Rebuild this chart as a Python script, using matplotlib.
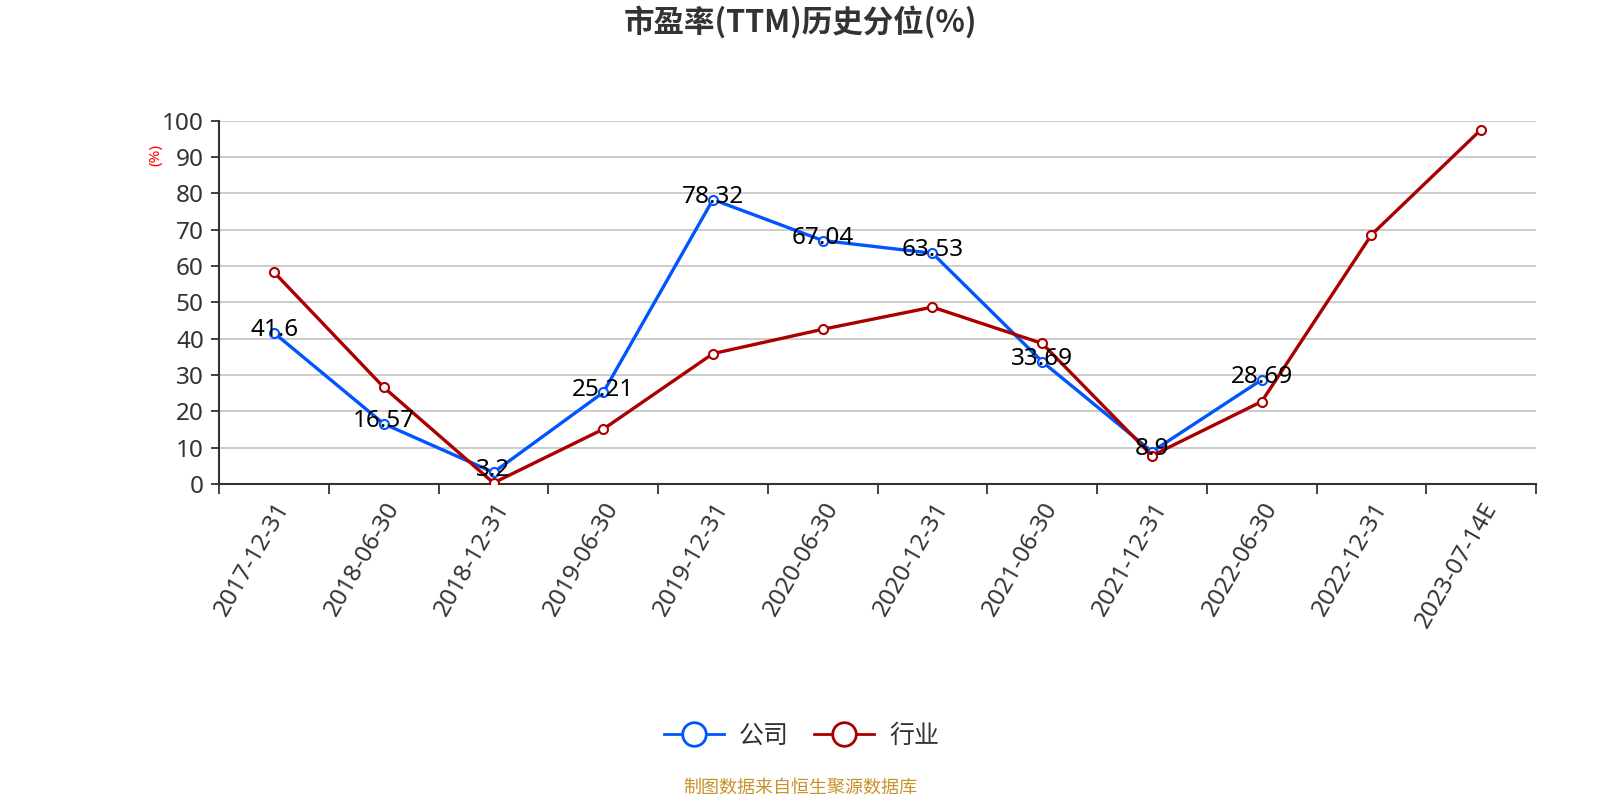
import matplotlib.pyplot as plt
from matplotlib.lines import Line2D

plt.rcParams['font.family'] = ['Noto Sans', 'Noto Sans CJK SC', 'DejaVu Sans']

dates = ['2017-12-31', '2018-06-30', '2018-12-31', '2019-06-30', '2019-12-31',
         '2020-06-30', '2020-12-31', '2021-06-30', '2021-12-31', '2022-06-30',
         '2022-12-31', '2023-07-14E']
company = [41.6, 16.57, 3.2, 25.21, 78.32, 67.04, 63.53, 33.69, 8.9, 28.69]
industry = [58.3, 26.6, 0.3, 15.1, 35.9, 42.6, 48.7, 38.7, 7.8, 22.7, 68.6, 97.6]

blue = '#0055ff'
red = '#aa0000'
grey = '#333333'

fig = plt.figure(figsize=(16, 8), dpi=100)
ax = fig.add_axes([0.137, 0.395, 0.823, 0.454])

x_all = list(range(len(dates)))
ax.plot(x_all[:len(company)], company, color=blue, lw=2.4, marker='o', ms=6.5,
        mfc='white', mec=blue, mew=1.5, zorder=3)
ax.plot(x_all, industry, color=red, lw=2.4, marker='o', ms=6.5,
        mfc='white', mec=red, mew=1.5, zorder=4)

for i, v in enumerate(company):
    ax.annotate(f'{v:g}', (i, v), xytext=(0, 2), textcoords='offset points',
                ha='center', va='center', fontsize=17.5, color='black', zorder=5)

ax.set_xlim(-0.5, len(dates) - 0.5)
ax.set_ylim(0, 100)
ax.set_yticks(range(0, 101, 10))
ax.yaxis.grid(True, color='#c8c8c8', lw=1.3)
ax.set_axisbelow(True)

ax.set_xticks([i - 0.5 for i in range(len(dates) + 1)])
ax.set_xticklabels([])
ax.set_xticks(x_all, minor=True)
ax.set_xticklabels(dates, minor=True, rotation=60, ha='right', rotation_mode='anchor',
                   fontsize=17.5, color=grey)
ax.tick_params(axis='x', which='minor', length=0, pad=10)
ax.tick_params(axis='x', which='major', length=7, width=1.3, color=grey)
ax.tick_params(axis='y', length=6, width=1.3, color=grey, labelsize=17.5,
               labelcolor=grey, pad=5)

for s in ['top', 'right']:
    ax.spines[s].set_visible(False)
for s in ['left', 'bottom']:
    ax.spines[s].set_color(grey)
    ax.spines[s].set_linewidth(1.5)

fig.text(0.5, 0.972, '市盈率(TTM)历史分位(%)', ha='center', va='center',
         fontsize=22, fontweight='bold', color=grey, family=['Noto Sans CJK SC'])
fig.text(0.0975, 0.806, '(%)', ha='center', va='center', rotation=90,
         fontsize=11, color='red')

handles = [Line2D([], [], color=blue, lw=2, marker='o', ms=17, mfc='white', mec=blue, mew=2),
           Line2D([], [], color=red, lw=2, marker='o', ms=17, mfc='white', mec=red, mew=2)]
fig.legend(handles, ['公司', '行业'], loc='center', bbox_to_anchor=(0.501, 0.08),
           ncol=2, frameon=False, fontsize=18, handlelength=2.4, columnspacing=1.0,
           handletextpad=0.6, labelcolor=grey)

fig.text(0.5, 0.015, '制图数据来自恒生聚源数据库', ha='center', va='center',
         fontsize=13, color='#c8922a')

fig.savefig('out.png', dpi=100)
